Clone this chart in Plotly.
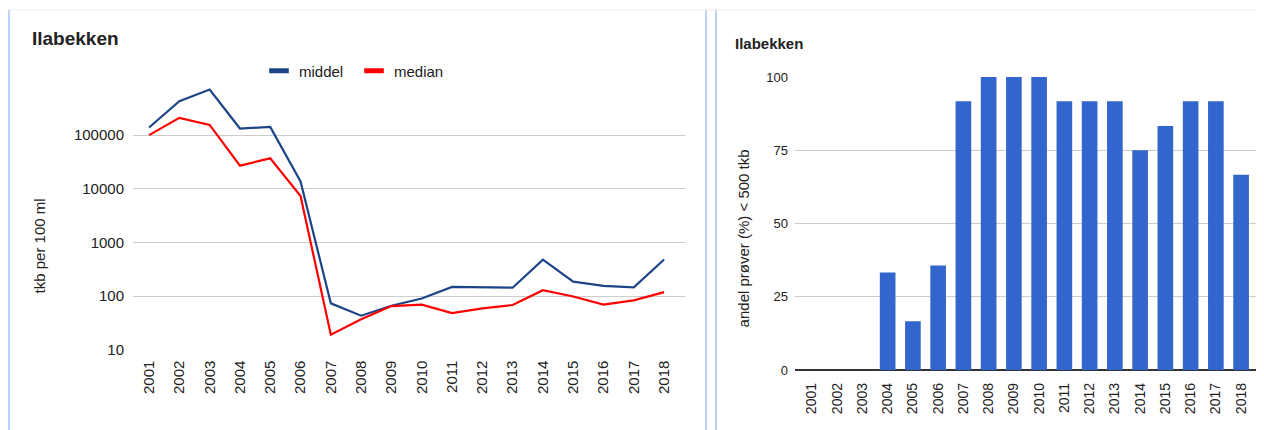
import plotly.graph_objects as go

# ---------------------------------------------
# Data
# ---------------------------------------------
years = [str(y) for y in range(2001, 2019)]

middel = [139000, 430000, 710000, 133000, 142000, 13700, 73, 43, 66, 90,
          148, 145, 143, 475, 185, 155, 145, 480]
median = [100000, 210000, 155000, 27000, 37000, 7300, 19, 37, 65, 69,
          48, 59, 68, 128, 98, 69, 83, 118]

andel_under_500 = [0, 0, 0, 33.3, 16.7, 35.7, 91.7, 100, 100, 100,
                   91.7, 91.7, 91.7, 75, 83.3, 91.7, 91.7, 66.7]

log_ticks = [10, 100, 1000, 10000, 100000]
bar_ticks = [0, 25, 50, 75, 100]

# page offsets measured from a test render (body margin + vertical squeeze)
OFF_X = 8
SY, OFF_Y = 0.963, 15.7
W = 1264 - 2 * OFF_X
H = 431
FONT = "Liberation Sans, Arial, sans-serif"
TXT = "#222222"
GRID = "#cccccc"


def px_x(v):
    # window pixel -> paper fraction
    return (v - OFF_X) / W


def px_y(v):
    return (H - (v / SY - OFF_Y)) / H


fig = go.Figure()

# ---------------------------------------------
# Left chart: middel / median (log)
# ---------------------------------------------
fig.add_trace(go.Scatter(x=years, y=middel, mode="lines", name="middel",
                         line=dict(color="#1c4587", width=2.2),
                         showlegend=False, xaxis="x", yaxis="y"))
fig.add_trace(go.Scatter(x=years, y=median, mode="lines", name="median",
                         line=dict(color="#ff0000", width=2.2),
                         showlegend=False, xaxis="x", yaxis="y"))

# short legend dashes like Google Charts
for name, col in [("middel", "#1c4587"), ("median", "#ff0000")]:
    fig.add_trace(go.Scatter(x=[None], y=[None], mode="markers", name=name,
                             marker=dict(symbol="line-ew", size=14,
                                         line=dict(color=col, width=5)),
                             xaxis="x", yaxis="y"))

# ---------------------------------------------
# Right chart: andel prøver < 500 tkb
# ---------------------------------------------
fig.add_trace(go.Bar(x=years, y=andel_under_500, marker_color="#3366cc",
                     marker_line_width=0, showlegend=False,
                     xaxis="x2", yaxis="y2"))

fig.update_layout(
    width=W, height=H,
    margin=dict(l=0, r=0, t=0, b=0),
    paper_bgcolor="white", plot_bgcolor="white",
    font=dict(family=FONT, color=TXT, size=14),
    bargap=0.38,
    showlegend=True,
    legend=dict(orientation="h", x=px_x(259), xanchor="left",
                y=px_y(71), yanchor="middle",
                font=dict(size=15, color=TXT), entrywidth=50,
                bgcolor="rgba(0,0,0,0)"),
    xaxis=dict(domain=[px_x(133), px_x(685)], type="category", anchor="y",
               range=[-0.53, 17.69], tickangle=-90, showgrid=False,
               showline=False, zeroline=False, ticks="",
               ticklabelstandoff=7, tickfont=dict(size=15, color=TXT)),
    yaxis=dict(domain=[px_y(349), px_y(81.5)], type="log", range=[1, 6],
               anchor="x",
               tickvals=log_ticks, ticktext=[str(v) for v in log_ticks],
               gridcolor=GRID, gridwidth=1, showline=False, zeroline=False,
               ticks="", ticklabelstandoff=8, tickfont=dict(size=15, color=TXT)),
    xaxis2=dict(domain=[px_x(795), 1.0], type="category", anchor="y2",
                range=[-0.67, 17.59], tickangle=-90, showgrid=False,
                showline=False, zeroline=False, ticks="",
                ticklabelstandoff=9, tickfont=dict(size=14, color=TXT)),
    yaxis2=dict(domain=[px_y(369.5), px_y(77)], range=[0, 100], anchor="x2",
                tickvals=bar_ticks, gridcolor=GRID, gridwidth=1,
                showline=False, zeroline=True, zerolinecolor="#333333",
                zerolinewidth=1.5, ticks="", ticklabelstandoff=6,
                tickfont=dict(size=13, color=TXT)),
)

# titles and axis titles
fig.add_annotation(text="<b>Ilabekken</b>", x=px_x(30), y=px_y(39),
                   xref="paper", yref="paper", xanchor="left", yanchor="middle",
                   showarrow=False, font=dict(size=19, color=TXT))
fig.add_annotation(text="<b>Ilabekken</b>", x=px_x(733), y=px_y(44),
                   xref="paper", yref="paper", xanchor="left", yanchor="middle",
                   showarrow=False, font=dict(size=15, color=TXT))
fig.add_annotation(text="tkb per 100 ml", x=px_x(39), y=px_y(245),
                   xref="paper", yref="paper", textangle=-90,
                   xanchor="center", yanchor="middle",
                   showarrow=False, font=dict(size=15, color=TXT))
fig.add_annotation(text="andel prøver (%) < 500 tkb", x=px_x(743), y=px_y(238),
                   xref="paper", yref="paper", textangle=-90,
                   xanchor="center", yanchor="middle",
                   showarrow=False, font=dict(size=15, color=TXT))

# panel borders
border = "#a4c2f4"
for xv in (9, 706, 716):
    fig.add_shape(type="line", xref="paper", yref="paper",
                  x0=px_x(xv), x1=px_x(xv), y0=0, y1=px_y(10),
                  line=dict(color=border, width=1.5))
fig.add_shape(type="line", xref="paper", yref="paper",
              x0=px_x(9), x1=1, y0=px_y(10), y1=px_y(10),
              line=dict(color="#eeeeee", width=1))

fig.write_html("out.html")
